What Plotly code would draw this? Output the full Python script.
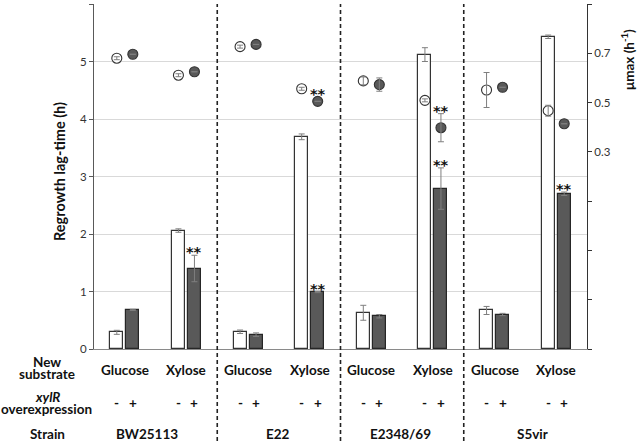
import plotly.graph_objects as go

# ---- data ----
strains = ["BW25113", "E22", "E2348/69", "S5vir"]
substrates = ["Glucose", "Xylose"]
# category order: BW-Glu, BW-Xyl, E22-Glu, E22-Xyl, E2348-Glu, E2348-Xyl, S5vir-Glu, S5vir-Xyl
lag_minus = [0.29, 2.06, 0.30, 3.69, 0.63, 5.12, 0.67, 5.43]
lag_minus_err = [0.035, 0.03, 0.03, 0.05, 0.13, 0.12, 0.07, 0.03]
lag_plus = [0.68, 1.40, 0.25, 0.99, 0.57, 2.79, 0.60, 2.70]
lag_plus_err = [0.01, 0.23, 0.03, 0.01, 0.03, 0.36, 0.02, 0.03]
mu_minus = [0.680, 0.611, 0.727, 0.556, 0.588, 0.509, 0.551, 0.467]
mu_minus_err = [0.006, 0.006, 0.006, 0.006, 0.016, 0.006, 0.071, 0.022]
mu_plus = [0.696, 0.625, 0.736, 0.505, 0.573, 0.398, 0.562, 0.414]
mu_plus_err = [0.0, 0.0, 0.0, 0.0, 0.027, 0.057, 0.0, 0.0]
sig_lag_plus = [False, True, False, True, False, True, False, True]
sig_mu_plus = [False, False, False, True, False, True, False, False]
y_left_ticks = [0, 1, 2, 3, 4, 5, 6]
y_right_ticks = [0.3, 0.5, 0.7, 0.9]
y_right_labels = ["0.3", "0.5", "0.7", "0.9"]

# ---- layout helpers ----
n_cat = len(strains) * len(substrates)
OFF = 0.13
BW = 0.21
xc = [i + 0.5 for i in range(n_cat)]
x_m = [c - OFF for c in xc]
x_p = [c + OFF for c in xc]

FONT = "Lato, 'Open Sans', sans-serif"
ERRC = "#7f7f7f"
DARK = "#595959"

fig = go.Figure()
fig.add_trace(go.Bar(
    x=x_m, y=lag_minus, width=BW, yaxis="y",
    marker=dict(color="white", line=dict(color="#333333", width=1.2)),
    error_y=dict(type="data", array=lag_minus_err, color=ERRC, thickness=1, width=3),
    showlegend=False, hoverinfo="skip"))
fig.add_trace(go.Bar(
    x=x_p, y=lag_plus, width=BW, yaxis="y",
    marker=dict(color=DARK, line=dict(color="#262626", width=1.2)),
    error_y=dict(type="data", array=lag_plus_err, color=ERRC, thickness=1, width=3),
    showlegend=False, hoverinfo="skip"))
fig.add_trace(go.Scatter(
    x=x_m, y=mu_minus, yaxis="y2", mode="markers",
    marker=dict(symbol="circle", size=10, color="white", line=dict(color="#333333", width=1.1)),
    showlegend=False, hoverinfo="skip"))
fig.add_trace(go.Scatter(
    x=x_p, y=mu_plus, yaxis="y2", mode="markers",
    marker=dict(symbol="circle", size=10, color=DARK, line=dict(color="#333333", width=1.1)),
    showlegend=False, hoverinfo="skip"))
# error bars of the growth rates drawn above the markers
for xs, ys, es in ((x_m, mu_minus, mu_minus_err), (x_p, mu_plus, mu_plus_err)):
    fig.add_trace(go.Scatter(
        x=xs, y=ys, yaxis="y2", mode="markers", marker=dict(size=1, opacity=0),
        error_y=dict(type="data", array=es, color=ERRC, thickness=1, width=3),
        showlegend=False, hoverinfo="skip"))

STAR = dict(family="DejaVu Sans", size=14.5, color="#111111")
ann = []
for i in range(n_cat):
    if sig_lag_plus[i]:
        ann.append(dict(x=x_p[i], y=lag_plus[i] + lag_plus_err[i], xref="x", yref="y",
                        text="<b>**</b>", showarrow=False, yanchor="middle", yshift=3, font=STAR))
    if sig_mu_plus[i]:
        ann.append(dict(x=x_p[i], y=mu_plus[i] + mu_plus_err[i], xref="x", yref="y2",
                        text="<b>**</b>", showarrow=False, yanchor="middle",
                        yshift=3 if mu_plus_err[i] > 0 else 7, font=STAR))

bold = dict(family=FONT, size=13.5, color="#111111")
def py(px):
    return (349 - px) / 345.0

def left_label(text, xpx, ypx):
    ann.append(dict(x=0, xshift=xpx - 94, xref="paper", xanchor="center",
                    y=py(ypx), yref="paper", yanchor="middle",
                    text=text, showarrow=False, font=bold))

left_label("<b>New</b>", 47, 362)
left_label("<b>substrate</b>", 47, 374)
left_label("<b><i>xylR</i></b>", 47, 396.5)
left_label("<b>overexpression</b>", 46, 408.5)
left_label("<b>Strain</b>", 47, 434)

for i in range(n_cat):
    ann.append(dict(x=xc[i], xref="x", xanchor="center", y=py(369.5), yref="paper", yanchor="middle",
                    text="<b>%s</b>" % substrates[i % 2], showarrow=False, font=bold))
    ann.append(dict(x=x_m[i], xref="x", xanchor="center", y=py(402.5), yref="paper", yanchor="middle",
                    text="<b>-</b>", showarrow=False, font=bold))
    ann.append(dict(x=x_p[i], xref="x", xanchor="center", y=py(402.5), yref="paper", yanchor="middle",
                    text="<b>+</b>", showarrow=False, font=bold))

strain_shift = [-9, -1, -2, 7]
for j, s in enumerate(strains):
    ann.append(dict(x=2 * j + 1, xref="x", xanchor="center", xshift=strain_shift[j],
                    y=py(434), yref="paper", yanchor="middle",
                    text="<b>%s</b>" % s, showarrow=False, font=bold))

ann.append(dict(x=0, xshift=59 - 94, xref="paper", xanchor="center", y=py(172), yref="paper",
                yanchor="middle", text="<b>Regrowth lag-time (h)</b>", textangle=-90, showarrow=False,
                font=dict(family=FONT, size=14.5, color="#111111")))
ann.append(dict(x=1, xshift=628 - 587, xref="paper", xanchor="center", y=py(60), yref="paper",
                yanchor="middle", text="<b>μmax (h<sup>-1</sup>)</b>", textangle=-90, showarrow=False,
                font=dict(family=FONT, size=13.5, color="#111111")))

shapes = []
for k in range(1, len(strains)):
    xp = k / len(strains)
    shapes.append(dict(type="line", xref="paper", yref="paper", x0=xp, x1=xp,
                       y0=py(441), y1=py(4), line=dict(color="#222222", width=1.6, dash="4px,3px")))

fig.update_layout(
    width=640, height=441, autosize=False,
    margin=dict(l=94, r=53, t=4, b=92, pad=0),
    paper_bgcolor="white", plot_bgcolor="white",
    barmode="overlay", bargap=0, hovermode=False,
    font=dict(family=FONT, size=11, color="#333333"),
    xaxis=dict(range=[0, n_cat], showticklabels=False, showgrid=False, zeroline=False,
               showline=True, linecolor="#8a8a8a", linewidth=1, ticks="", automargin=False),
    yaxis=dict(range=[0, 6], tickvals=y_left_ticks, showgrid=True, gridcolor="#d9d9d9", gridwidth=1,
               zeroline=False, showline=True, linecolor="#595959", linewidth=1,
               ticks="outside", ticklen=4, tickcolor="#595959", automargin=False,
               tickfont=dict(family=FONT, size=11.5, color="#333333")),
    yaxis2=dict(range=[-0.5, 0.9], overlaying="y", side="right", tickvals=y_right_ticks,
                ticktext=y_right_labels, showgrid=False, zeroline=False, showline=True,
                linecolor="#333333", linewidth=1, ticks="outside", ticklen=4, tickcolor="#333333",
                minor=dict(tick0=-0.5, dtick=0.2, ticks="outside", ticklen=4, tickcolor="#333333",
                           showgrid=False),
                automargin=False, tickfont=dict(family=FONT, size=11.5, color="#333333")),
    annotations=ann, shapes=shapes,
)

fig.write_html("out.html", config={"displayModeBar": False},
               post_script="document.body.style.margin='0';document.body.style.padding='0';")
